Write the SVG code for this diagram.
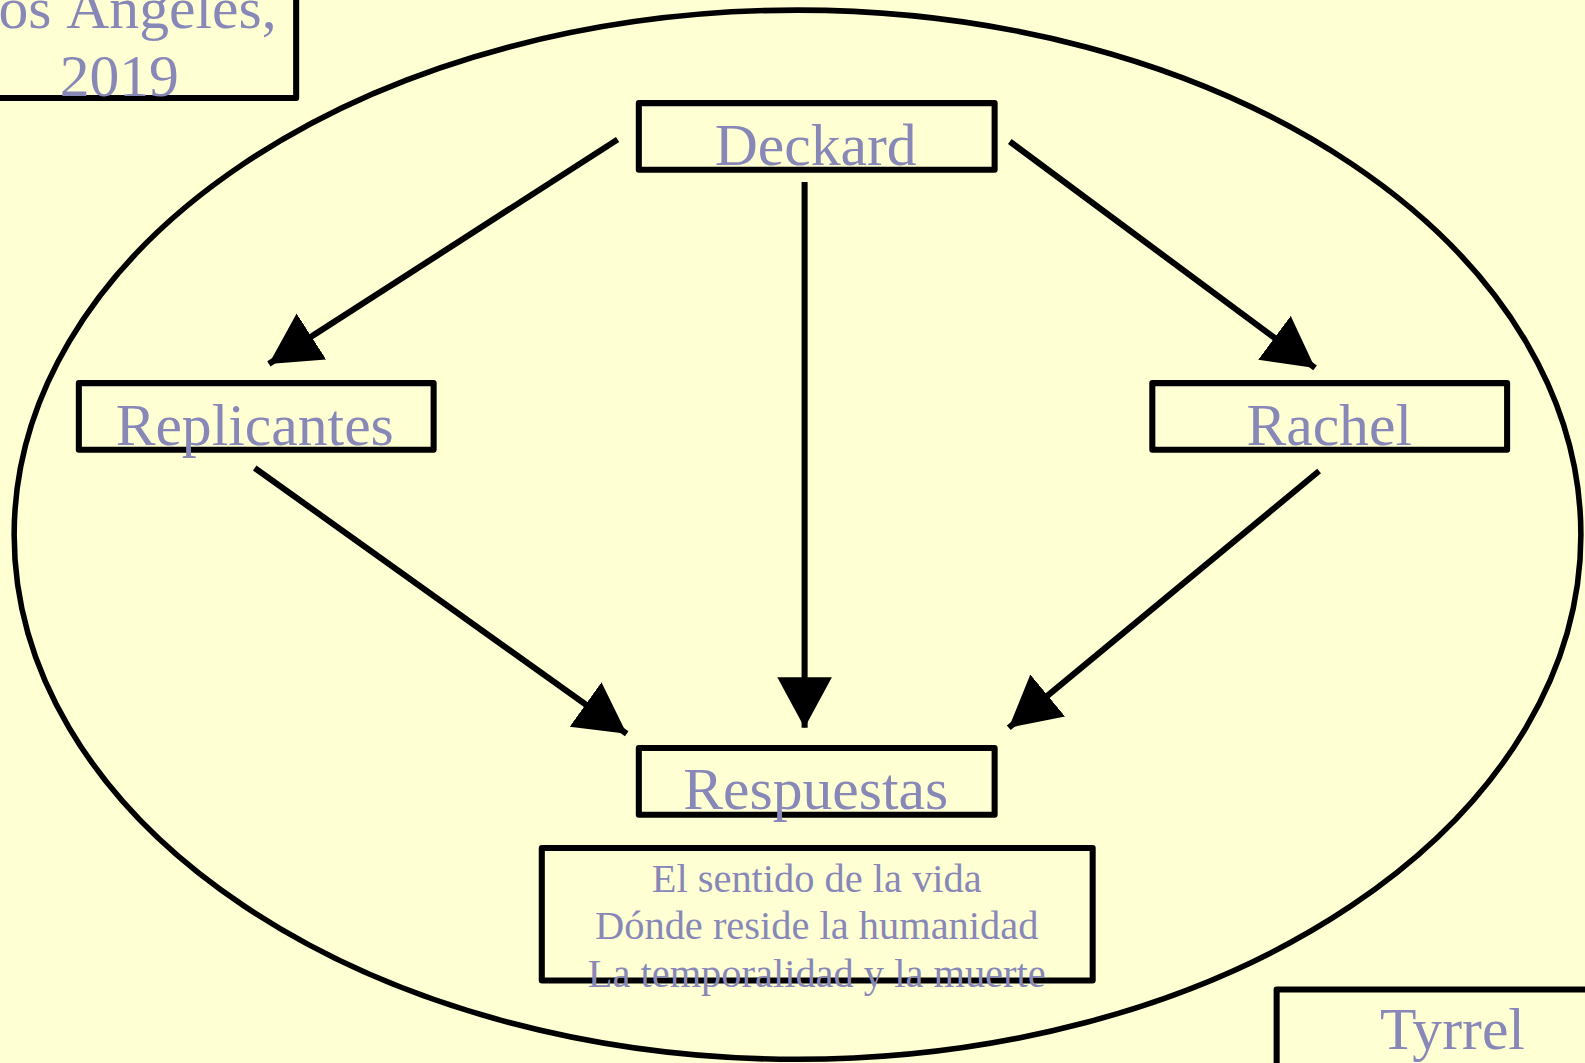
<svg xmlns="http://www.w3.org/2000/svg" width="1585" height="1063" viewBox="0 0 1585 1063">
<style>
.box{fill:#FFFFD4;stroke:#000;stroke-width:6;stroke-linejoin:round}
.big{font-family:"Liberation Serif","Times New Roman",serif;font-size:59px;fill:#8888B8;text-anchor:middle}
.small{font-family:"Liberation Serif","Times New Roman",serif;font-size:40px;fill:#8888B8;text-anchor:middle}
.conn{stroke:#000;stroke-width:6;fill:none;marker-end:url(#ah)}
</style>
<defs>
<marker id="ah" markerUnits="userSpaceOnUse" markerWidth="52" markerHeight="56" refX="50" refY="27" orient="auto" viewBox="0 0 52 56">
<path d="M0,0 L50,27 L0,54 z" fill="#000"/>
</marker>
</defs>
<rect width="1585" height="1063" fill="#FFFFD4"/>
<g transform="scale(1.0108)">
<ellipse cx="789" cy="529" rx="775" ry="519" fill="none" stroke="#000" stroke-width="5.5"/>
<g id="connectors">
<line class="conn" x1="611" y1="138" x2="266" y2="360"/>
<line class="conn" x1="796" y1="180" x2="796" y2="720"/>
<line class="conn" x1="999" y1="140" x2="1301" y2="364"/>
<line class="conn" x1="252" y1="463" x2="620" y2="726"/>
<line class="conn" x1="1305" y1="466" x2="998" y2="720"/>
</g>
<g id="los-angeles">
<rect class="box" x="-10" y="-10" width="303" height="107"/>
<text class="big" x="118" y="28">Los Ángeles,</text>
<text class="big" x="118" y="95">2019</text>
</g>
<g id="deckard">
<rect class="box" x="632" y="102" width="352" height="66"/>
<text class="big" x="807" y="163">Deckard</text>
</g>
<g id="replicantes">
<rect class="box" x="78" y="379" width="351" height="66"/>
<text class="big" x="252" y="440">Replicantes</text>
</g>
<g id="rachel">
<rect class="box" x="1140" y="379" width="351" height="66"/>
<text class="big" x="1315" y="440">Rachel</text>
</g>
<g id="respuestas">
<rect class="box" x="632" y="740" width="352" height="66"/>
<text class="big" x="807" y="800">Respuestas</text>
</g>
<g id="preguntas">
<rect class="box" x="536" y="839" width="545" height="131"/>
<text class="small" x="808" y="882">El sentido de la vida</text>
<text class="small" x="808" y="929">Dónde reside la humanidad</text>
<text class="small" x="808" y="976">La temporalidad y la muerte</text>
</g>
<g id="tyrrel">
<rect class="box" x="1263" y="979" width="340" height="100"/>
<text class="big" x="1437" y="1038">Tyrrel</text>
</g>
</g>
</svg>
